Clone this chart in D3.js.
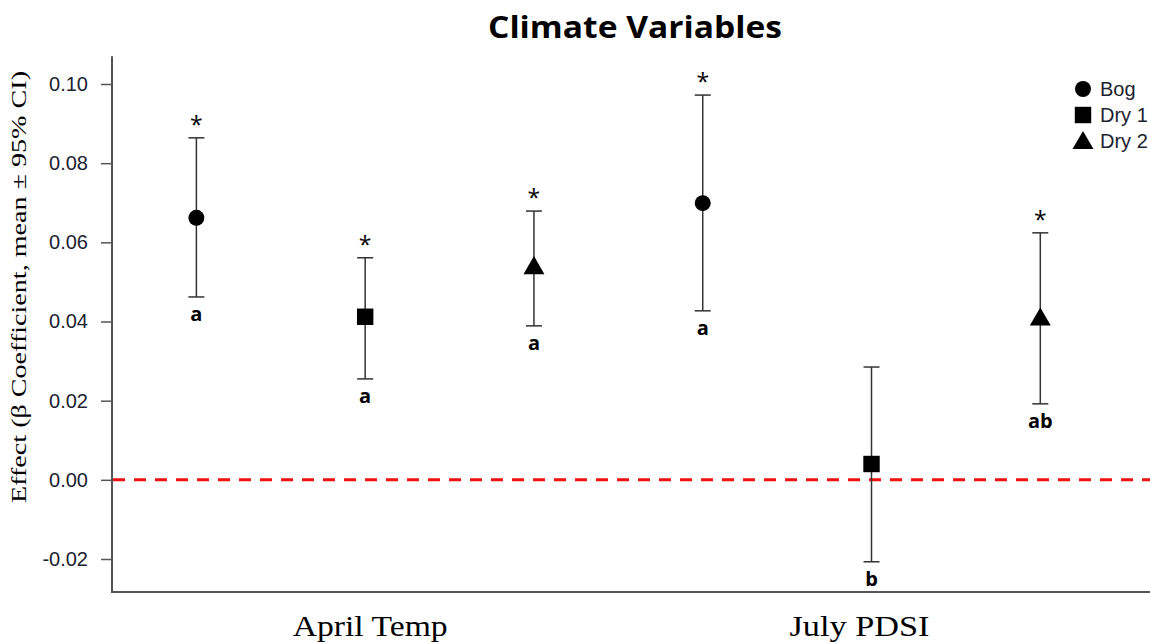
<!DOCTYPE html>
<html>
<head>
<meta charset="utf-8">
<script src="https://cdn.jsdelivr.net/npm/d3@7"></script>
<style>
  body { margin: 0; background: #fff; }
  svg { display: block; }
</style>
</head>
<body>
<div id="chart"></div>
<script>
// data
const categories = ['April Temp', 'July PDSI'];
const sites = ['Bog', 'Dry 1', 'Dry 2'];
const means = [0.0662, 0.0412, 0.0540, 0.0699, 0.0040, 0.0410];
const upper = [0.0864, 0.0561, 0.0679, 0.0972, 0.0285, 0.0624];
const lower = [0.0462, 0.0255, 0.0389, 0.0427, -0.0207, 0.0192];
const letters = ['a', 'a', 'a', 'a', 'b', 'ab'];
const signif = [true, true, true, true, false, true];
const yTicks = [-0.02, 0, 0.02, 0.04, 0.06, 0.08, 0.10];

const width = 1150, height = 642;

const rows = means.map((m, i) => ({
  pos: i + 1,
  cat: categories[Math.floor(i / 3)],
  site: sites[i % 3],
  mean: m, hi: upper[i], lo: lower[i],
  letter: letters[i], star: signif[i]
}));

const svg = d3.select('#chart').append('svg')
  .attr('width', width)
  .attr('height', height);

const x = d3.scaleLinear().domain([0.5, 6.65]).range([112, 1150]);
const y = d3.scaleLinear().domain([-0.02, 0.10]).range([559, 84]);
const yBottom = 592;

// symbols
const symbolFor = {
  'Bog': d3.symbol(d3.symbolCircle, 200),
  'Dry 1': d3.symbol(d3.symbolSquare, 270),
  'Dry 2': d3.symbol(d3.symbolTriangle, 190)
};

// y axis
const yAxis = d3.axisLeft(y)
  .tickValues(yTicks)
  .tickFormat(d => d3.format('.2f')(d).replace('\u2212', '-'))
  .tickSize(11)
  .tickPadding(13);

const gy = svg.append('g')
  .attr('transform', 'translate(112,0)')
  .call(yAxis);
gy.select('.domain').remove();
gy.selectAll('.tick line').attr('stroke', '#555').attr('stroke-width', 1.5);
gy.selectAll('.tick text')
  .attr('fill', '#1c2230')
  .style('font-family', '"Liberation Sans", Arial, sans-serif')
  .style('font-size', '20px');

// axis lines (left + bottom)
svg.append('path')
  .attr('d', `M112,${y(0.107)}V${yBottom}H${width}`)
  .attr('fill', 'none')
  .attr('stroke', '#555')
  .attr('stroke-width', 2);

// zero line
svg.append('line')
  .attr('x1', 113).attr('x2', width)
  .attr('y1', y(0)).attr('y2', y(0))
  .attr('stroke', '#f01010')
  .attr('stroke-width', 3)
  .attr('stroke-dasharray', '12,9');

// error bars
const g = svg.append('g');
const pts = g.selectAll('.pt').data(rows).enter().append('g').attr('class', 'pt');

pts.append('line')
  .attr('x1', d => x(d.pos)).attr('x2', d => x(d.pos))
  .attr('y1', d => y(d.hi)).attr('y2', d => y(d.lo))
  .attr('stroke', '#333').attr('stroke-width', 1.5);

pts.append('line')
  .attr('x1', d => x(d.pos) - 8).attr('x2', d => x(d.pos) + 8)
  .attr('y1', d => y(d.hi)).attr('y2', d => y(d.hi))
  .attr('stroke', '#333').attr('stroke-width', 1.5);

pts.append('line')
  .attr('x1', d => x(d.pos) - 8).attr('x2', d => x(d.pos) + 8)
  .attr('y1', d => y(d.lo)).attr('y2', d => y(d.lo))
  .attr('stroke', '#333').attr('stroke-width', 1.5);

pts.append('path')
  .attr('d', d => symbolFor[d.site]())
  .attr('transform', d => `translate(${x(d.pos)},${y(d.mean) + (d.site === 'Dry 2' ? 2 : 0)})`)
  .attr('fill', '#000');

// significance stars
pts.filter(d => d.star).append('text')
  .attr('x', d => x(d.pos))
  .attr('y', d => y(d.hi) - 5)
  .attr('text-anchor', 'middle')
  .style('font-family', '"Open Sans", sans-serif')
  .style('font-size', '23px')
  .text('*');

// group letters
pts.append('text')
  .attr('x', d => x(d.pos))
  .attr('y', d => y(d.lo) + 24)
  .attr('text-anchor', 'middle')
  .style('font-family', '"Open Sans", sans-serif')
  .style('font-weight', 'bold')
  .style('font-size', '20px')
  .text(d => d.letter);

// category labels (the source figure is slightly stretched horizontally)
svg.selectAll('.cat').data(categories).enter().append('text')
  .attr('class', 'cat')
  .attr('x', (d, i) => x(i * 3 + 2) + (i === 0 ? 5 : -12))
  .attr('y', 636)
  .attr('text-anchor', 'middle')
  .attr('textLength', (d, i) => i === 0 ? 155 : 140)
  .attr('lengthAdjust', 'spacingAndGlyphs')
  .style('font-family', '"Liberation Serif", "Times New Roman", serif')
  .style('font-size', '29px')
  .text(d => d);

// y label
svg.append('text')
  .attr('transform', 'translate(26,287) rotate(-90)')
  .attr('text-anchor', 'middle')
  .attr('textLength', 432)
  .attr('lengthAdjust', 'spacingAndGlyphs')
  .style('font-family', '"Liberation Serif", "Times New Roman", serif')
  .style('font-size', '21px')
  .text('Effect (\u03B2 Coefficient, mean \u00B1 95% CI)');

// title
svg.append('text')
  .attr('x', 635).attr('y', 38)
  .attr('text-anchor', 'middle')
  .attr('textLength', 294)
  .attr('lengthAdjust', 'spacingAndGlyphs')
  .style('font-family', '"Open Sans", sans-serif')
  .style('font-weight', 'bold')
  .style('font-size', '30px')
  .text('Climate Variables');

// legend
const leg = svg.append('g').attr('transform', 'translate(1083,89)');
const li = leg.selectAll('g').data(sites).enter().append('g')
  .attr('transform', (d, i) => `translate(0,${i * 26})`);
li.append('path')
  .attr('d', d => symbolFor[d]())
  .attr('transform', d => d === 'Dry 2' ? 'translate(0,2)' : null)
  .attr('fill', '#000');
li.append('text')
  .attr('x', 17).attr('y', 7)
  .attr('fill', '#1c2230')
  .style('font-family', '"Liberation Sans", Arial, sans-serif')
  .style('font-size', '20px')
  .text(d => d);
</script>
</body>
</html>
